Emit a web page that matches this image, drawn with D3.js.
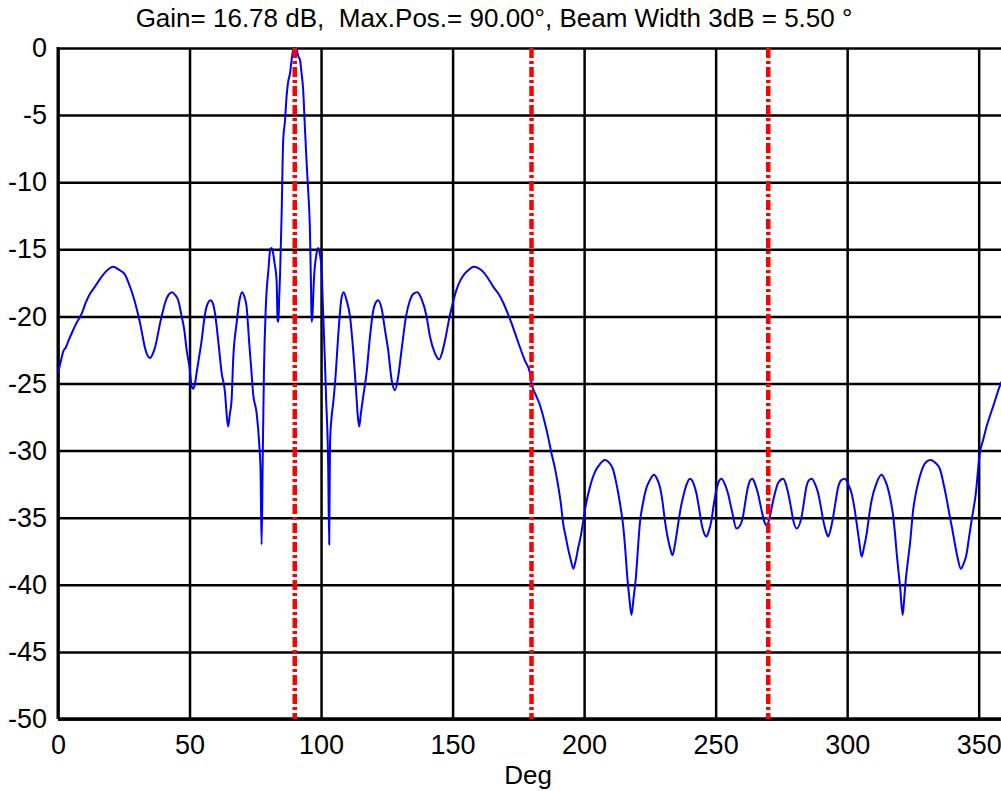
<!DOCTYPE html>
<html>
<head>
<meta charset="utf-8">
<script src="https://cdn.jsdelivr.net/npm/d3@7"></script>
<style>
  body { margin: 0; background: #fff; }
  text { font-family: "Liberation Sans", Arial, sans-serif; white-space: pre; }
</style>
</head>
<body>
<div id="chart"></div>
<script>
// angle (deg) and gain (dB)
var angles = [
    0, 1, 2, 3, 4, 5.8, 7, 9, 10.5, 12.2, 14, 16, 18, 21, 23, 25.5, 27, 28.6, 30, 31.2,
    32, 33, 34, 35, 36, 36.9, 38, 38.8, 40, 40.7, 42, 43.4, 44.5, 45.7, 47, 48, 48.9, 50, 50.8, 51.4,
    52, 52.7, 53.5, 54.6, 55.9, 57, 58, 59, 59.7, 60.9, 62.2, 63.5, 64.2, 64.7, 65.3, 66, 66.6, 67.9, 69, 70,
    70.8, 71.7, 72.7, 73.5, 74.2, 75.5, 76.5, 77, 77.4, 77.8, 78.3, 79, 80, 80.7, 81.2, 81.8, 82.3, 83.1, 83.5, 83.8,
    84.1, 84.4, 85, 85.6, 86.3, 86.9, 87.5, 88.2, 88.8, 89.4, 90, 90.7, 91.3, 92, 92.6, 93.2, 93.9, 94.5, 95.1, 95.8,
    96.2, 96.4, 96.7, 97.3, 98.2, 98.9, 99.5, 100.2, 100.8, 101.4, 101.9, 102.7, 103.1, 103.4, 104, 104.6, 105.5, 106.5, 107.8, 108.6,
    109.7, 111, 112.2, 113.3, 114, 114.5, 115.1, 116, 117.3, 118.6, 119.8, 120.7, 121.7, 123, 124.3, 125.5, 126.8, 128.1, 129.3, 130.6,
    132.3, 133.8, 135.2, 136.6, 138.2, 140.1, 141.4, 143.3, 144.9, 146, 147.1, 149, 150.2, 151.5, 153, 154.7, 156.3, 157.9, 159.8, 161.7,
    163.6, 165.5, 167.4, 169.3, 171, 172.4, 174, 175.6, 177.5, 179.4, 180, 181.5, 183.2, 184.5, 186, 187.6, 189, 190.2, 191.2, 192,
    193, 194, 195, 195.9, 196.8, 197.8, 198.8, 199.7, 200.6, 201.6, 202.8, 204.1, 206, 207.9, 209.5, 211, 212, 213, 214, 214.9,
    215.7, 216.4, 217.2, 218, 218.8, 219.7, 220.5, 221.2, 222.3, 223.5, 225, 226.6, 227.7, 228.8, 229.8, 230.7, 231.7, 232.6, 233.6, 234.7,
    235.8, 236.7, 237.7, 239, 240.2, 241.5, 242.7, 243.7, 244.6, 245.5, 246.5, 247.4, 248.4, 249.3, 250.3, 251.2, 252.2, 253.5, 254.7, 256.3,
    257.9, 259.2, 260.4, 261.3, 262.3, 263.2, 264, 265, 266.1, 267.4, 268.7, 269.4, 270.5, 271.9, 273.8, 275.7, 276.7, 277.6, 278.6, 279.5,
    280.8, 282.7, 283.6, 284.5, 285.5, 286.5, 287.8, 289, 290, 290.9, 291.9, 292.8, 293.8, 294.7, 295.6, 296.6, 297.8, 299.1, 300.4, 301.7,
    302.7, 303.6, 304.6, 305.5, 306.4, 307.4, 308.3, 309.3, 311.2, 313.1, 314.4, 315.6, 316.6, 317.5, 318.2, 318.8, 319.5, 320.1, 321.1, 321.7,
    322.3, 323.1, 323.9, 325.1, 326, 327, 328.9, 330.3, 331.7, 333.5, 335.3, 337.1, 338, 339, 340, 340.9, 342, 343.2, 344.3, 345.4,
    346.3, 347.3, 348.9, 350.4, 351.7, 353, 354.3, 355.5, 356.8, 358, 360
];
var gains = [
    -24.2, -23.4, -22.6, -22.3, -21.8, -21.0, -20.5, -19.8, -19.0, -18.3, -17.8, -17.2, -16.7, -16.3, -16.5, -16.9, -17.6, -18.5, -19.5, -20.5,
    -21.3, -22.3, -22.9, -23.1, -22.8, -22.3, -21.3, -20.5, -19.5, -19.0, -18.4, -18.2, -18.4, -18.8, -20.0, -21.0, -22.5, -23.8, -25.2, -25.4,
    -25.1, -24.2, -23.2, -21.8, -19.8, -19.0, -18.8, -19.1, -19.8, -21.8, -24.2, -25.7, -27.5, -28.2, -27.3, -26.2, -23.2, -20.5, -18.8, -18.2,
    -18.5, -19.3, -22.0, -24.0, -25.8, -27.2, -29.5, -31.5, -37.0, -31.0, -24.0, -19.3, -16.5, -15.0, -14.9, -15.3, -16.0, -17.3, -20.3, -20.4,
    -18.5, -17.0, -12.5, -6.9, -5.4, -3.6, -2.5, -1.9, -0.9, -0.15, 0, -0.1, -0.6, -0.9, -1.9, -3.1, -6.1, -8.5, -10.6, -13.8,
    -18.0, -20.4, -20.0, -17.2, -15.4, -14.9, -15.3, -16.5, -19.8, -23.0, -26.0, -31.0, -37.0, -29.5, -27.5, -26.5, -24.5, -21.5, -18.6, -18.2,
    -18.8, -20.0, -22.5, -25.5, -27.5, -28.2, -27.3, -26.0, -24.2, -21.5, -19.6, -19.0, -18.8, -19.4, -21.0, -22.5, -24.7, -25.5, -24.5, -22.5,
    -20.0, -18.8, -18.3, -18.2, -18.7, -20.0, -21.5, -22.75, -23.2, -22.7, -21.8, -19.9, -18.9, -18.0, -17.3, -16.8, -16.5, -16.3, -16.4, -16.7,
    -17.2, -17.8, -18.3, -19.0, -19.8, -20.5, -21.4, -22.3, -23.3, -24.2, -25.0, -25.8, -26.6, -27.5, -28.7, -30.2, -31.4, -32.7, -34.0, -35.4,
    -36.4, -37.4, -38.2, -38.8, -38.2, -37.2, -36.3, -35.2, -34.1, -33.2, -32.3, -31.6, -31.0, -30.7, -30.9, -31.4, -32.2, -33.2, -34.4, -35.7,
    -37.5, -39.4, -41.0, -42.25, -41.0, -39.4, -37.2, -35.4, -34.0, -32.9, -32.2, -31.8, -32.1, -32.7, -33.8, -35.2, -36.4, -37.2, -37.8, -36.8,
    -35.4, -34.3, -33.4, -32.5, -32.1, -32.4, -33.2, -34.3, -35.4, -36.1, -36.4, -36.0, -35.2, -34.0, -32.9, -32.3, -32.1, -32.5, -33.2, -34.6,
    -35.8, -35.6, -34.9, -33.8, -32.7, -32.2, -32.1, -32.5, -33.2, -34.4, -35.4, -35.6, -35.0, -33.7, -32.4, -32.1, -32.5, -33.2, -34.2, -35.2,
    -35.8, -34.9, -33.8, -32.7, -32.2, -32.1, -32.5, -33.2, -34.2, -35.2, -36.0, -36.4, -35.8, -34.9, -33.8, -32.7, -32.2, -32.1, -32.5, -33.2,
    -34.2, -35.4, -36.8, -37.9, -37.2, -36.2, -34.9, -33.7, -32.4, -31.8, -32.2, -32.9, -33.8, -34.9, -36.2, -37.6, -39.0, -40.1, -42.25, -41.0,
    -39.6, -38.2, -36.9, -34.4, -33.3, -32.4, -31.2, -30.8, -30.7, -30.9, -31.4, -32.9, -33.8, -34.9, -35.9, -36.9, -38.0, -38.8, -38.4, -37.7,
    -36.5, -35.2, -33.2, -30.2, -29.2, -28.2, -27.4, -26.7, -25.9, -25.2, -24.4
];

var xTicks = [0, 50, 100, 150, 200, 250, 300, 350];
var yTicks = [0, -5, -10, -15, -20, -25, -30, -35, -40, -45, -50];
var markers = [90, 180, 270];   // red dash-dot reference lines

var titleText = "Gain= 16.78 dB,  Max.Pos.= 90.00\u00b0, Beam Width 3dB = 5.50 \u00b0";
var xLabel = "Deg";

var width = 1001;
var height = 791;
// note: "top" is taken by window.top, so use other names
var padLeft = 58, padTop = 48;
var plotW = 947, plotH = 671;

var svg = d3.select("#chart")
    .append("svg")
    .attr("width", width)
    .attr("height", height);

var x = d3.scaleLinear().domain([0, 360]).range([0, plotW]);
var y = d3.scaleLinear().domain([-50, 0]).range([plotH, 0]);

var g = svg.append("g").attr("transform", "translate(" + padLeft + "," + padTop + ")");

// horizontal grid + y labels (plain hyphen minus, like the original)
var yAxis = g.append("g")
    .call(d3.axisLeft(y).tickValues(yTicks).tickSize(-plotW).tickPadding(11)
        .tickFormat(function(d) { return String(d); }));
yAxis.select(".domain").remove();
yAxis.selectAll("line").attr("stroke", "#000").attr("stroke-width", 2.5);
yAxis.selectAll("text")
    .attr("font-size", "27px")
    .attr("fill", "#000");

// vertical grid + x labels
var xAxis = g.append("g")
    .attr("transform", "translate(0," + plotH + ")")
    .call(d3.axisBottom(x).tickValues(xTicks).tickSize(-plotH).tickPadding(16));
xAxis.select(".domain").remove();
xAxis.selectAll("line").attr("stroke", "#000").attr("stroke-width", 2.5);
xAxis.selectAll("text")
    .attr("font-size", "27px")
    .attr("fill", "#000");

// axis lines
g.append("line")
    .attr("x1", 0).attr("x2", 0)
    .attr("y1", -1).attr("y2", plotH)
    .attr("stroke", "#000").attr("stroke-width", 3);
g.append("line")
    .attr("x1", 0).attr("x2", plotW)
    .attr("y1", plotH).attr("y2", plotH)
    .attr("stroke", "#000").attr("stroke-width", 3.5);

// pattern curve
var line = d3.line()
    .x(function(d) { return x(d[0]); })
    .y(function(d) { return y(d[1]); })
    .curve(d3.curveMonotoneX);

g.append("path")
    .datum(d3.zip(angles, gains))
    .attr("d", line)
    .attr("fill", "none")
    .attr("stroke", "#0000ff")
    .attr("stroke-width", 2);

// markers
g.selectAll(".marker")
    .data(markers)
    .enter()
    .append("line")
    .attr("class", "marker")
    .attr("x1", function(d) { return x(d); })
    .attr("x2", function(d) { return x(d); })
    .attr("y1", 0)
    .attr("y2", plotH)
    .attr("stroke", "#ff0000")
    .attr("stroke-width", 4.5)
    .attr("stroke-dasharray", "10,3,3,3");

svg.append("text")
    .attr("x", 494)
    .attr("y", 27)
    .attr("text-anchor", "middle")
    .attr("font-size", "26px")
    .text(titleText);

svg.append("text")
    .attr("x", 528)
    .attr("y", 784)
    .attr("text-anchor", "middle")
    .attr("font-size", "26px")
    .text(xLabel);
</script>
</body>
</html>
